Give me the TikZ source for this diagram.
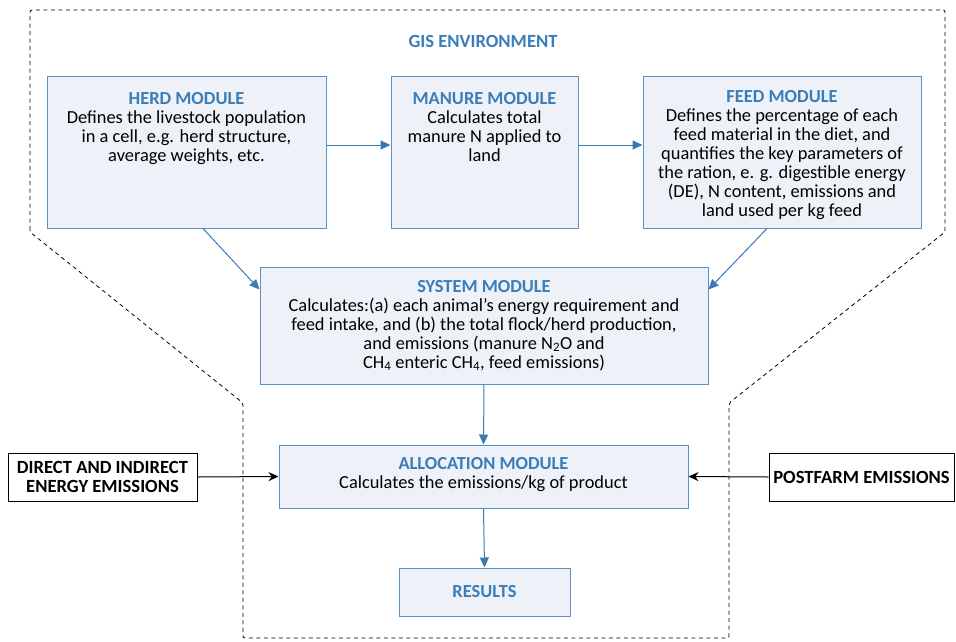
\documentclass[tikz,border=0pt]{standalone}
\usepackage{fontspec}
\setmainfont{Carlito}
\usetikzlibrary{arrows.meta}
\definecolor{boxfill}{HTML}{EEF2F8}
\definecolor{boxline}{HTML}{5B92C5}
\definecolor{titleblue}{HTML}{3A7DB8}
\definecolor{flowblue}{HTML}{3B79B2}
\newcommand{\modtitle}[1]{\textcolor{titleblue}{\textbf{#1}}}

\begin{document}
\begin{tikzpicture}[x=1pt,y=-1pt,
    module/.style={draw=boxline,fill=boxfill,line width=1pt,inner sep=0pt},
    modtext/.style={align=center,inner sep=0pt,anchor=north,font=\fontsize{18.4}{19}\selectfont},
    outbox/.style={draw,line width=0.9pt,inner sep=0pt,align=center,font=\fontsize{18.6}{19.5}\selectfont\bfseries},
    flow/.style={flowblue,line width=1pt,-{Triangle[width=9pt,length=10pt]}},
    feedin/.style={black,line width=1pt,-{Stealth[width=9pt,length=10pt]}}]
    \useasboundingbox (0,0) rectangle (956,641);
    % GIS environment border
    \draw[dash pattern=on 4pt off 3.5pt,line width=0.8pt,rounded corners=2pt]
        (30,232) -- (30,10) -- (945,10) -- (945,232) -- (729,403) -- (729,638)
        -- (243,638) -- (243,403) -- cycle;
    \node[font=\fontsize{18.6}{19}\selectfont\bfseries,text=titleblue] (gis) at (483,41) {GIS ENVIRONMENT};
    % modules
    \node[module,minimum width=279pt,minimum height=152pt] (herd) at (186.5,152) {};
    \node[module,minimum width=187pt,minimum height=152pt] (manure) at (484.5,152) {};
    \node[module,minimum width=278pt,minimum height=152pt] (feed) at (782,152) {};
    \node[module,minimum width=448pt,minimum height=117pt] (system) at (484,325.5) {};
    \node[module,minimum width=409pt,minimum height=63pt] (alloc) at (483.5,476.5) {};
    \node[module,minimum width=171pt,minimum height=48pt,font=\fontsize{18.4}{19}\selectfont] (results) at (484.5,592) {\modtitle{RESULTS}};
    \node[modtext] (herdtext) at ([yshift=-16.5pt]herd.north) {\modtitle{HERD MODULE}\\Defines the livestock population\\in a cell, e.g. herd structure,\\average weights, etc.};
    \node[modtext] (manuretext) at ([yshift=-16.5pt]manure.north) {\modtitle{MANURE MODULE}\\Calculates total\\manure N applied to\\land};
    \node[modtext] (feedtext) at ([yshift=-14.5pt]feed.north) {\modtitle{FEED MODULE}\\Defines the percentage of each\\feed material in the diet, and\\quantifies the key parameters of\\the ration, e. g. digestible energy\\(DE), N content, emissions and\\land used per kg feed};
    \node[modtext] (systemtext) at ([yshift=-13.5pt]system.north) {\modtitle{SYSTEM MODULE}\\Calculates:(a) each animal's energy requirement and\\feed intake, and (b) the total flock/herd production,\\and emissions (manure N\textsubscript{2}O and\\CH\textsubscript{4} enteric CH\textsubscript{4}, feed emissions)};
    \node[modtext] (alloctext) at ([yshift=-13pt]alloc.north) {\modtitle{ALLOCATION MODULE}\\Calculates the emissions/kg of product};
    % outside inputs
    \node[outbox,minimum width=189pt,minimum height=48pt] (direct) at (102.5,477) {DIRECT AND INDIRECT\\ENERGY EMISSIONS};
    \node[outbox,minimum width=185pt,minimum height=48pt] (post) at (861.5,477) {POSTFARM EMISSIONS};
    % arrows
    \draw[flow] ([yshift=7pt]herd.east) -- ([yshift=7pt]manure.west);
    \draw[flow] ([yshift=7pt]manure.east) -- ([yshift=7pt]feed.west);
    \draw[flow] ([xshift=16.5pt]herd.south) -- ([yshift=-23pt]system.north west);
    \draw[flow] ([xshift=-15pt]feed.south) -- ([yshift=-23pt]system.north east);
    \draw[flow] (system.south) -- (alloc.north);
    \draw[flow] (alloc.south) -- (results.north);
    \draw[feedin] (direct.east) -- (alloc.west);
    \draw[feedin] (post.west) -- (alloc.east);
\end{tikzpicture}
\end{document}
